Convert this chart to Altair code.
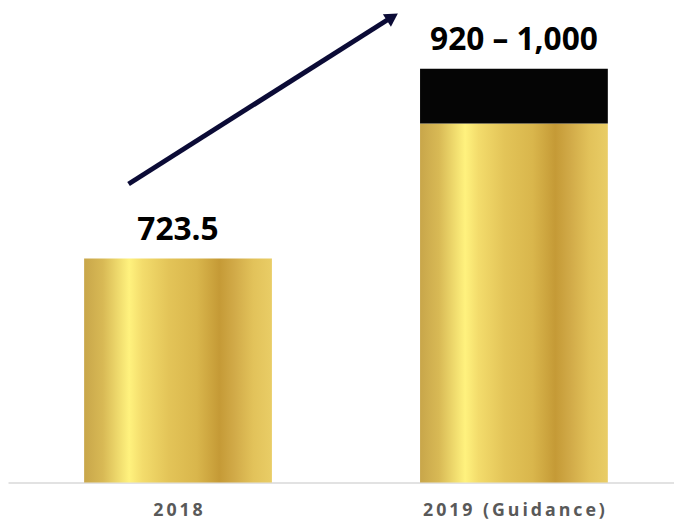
import altair as alt
import pandas as pd

categories = ["2018", "2019 (Guidance)"]
base_values = [723.5, 920.0]
upper_values = [None, 1000.0]
value_labels = ["723.5", "920 \u2013 1,000"]

gold_rows = pd.DataFrame({
    "cat": categories,
    "low": [0.0, 0.0],
    "high": base_values,
})
black_rows = pd.DataFrame({
    "cat": [c for c, u in zip(categories, upper_values) if u is not None],
    "low": [b for b, u in zip(base_values, upper_values) if u is not None],
    "high": [u for u in upper_values if u is not None],
})
label_rows = pd.DataFrame({
    "cat": categories,
    "top": [u if u is not None else b for b, u in zip(base_values, upper_values)],
    "label": value_labels,
})

x_enc = alt.X(
    "cat:N",
    sort=categories,
    title=None,
    scale=alt.Scale(paddingInner=0.441, paddingOuter=0.2118, align=0.535),
    axis=alt.Axis(
        labelAngle=0,
        ticks=False,
        tickSize=0,
        labelFont="Open Sans",
        labelFontWeight="bold",
        labelFontSize=18,
        labelColor="#595959",
        labelBaseline="alphabetic",
        labelPadding=34,
        labelLimit=0,
        domainColor="#d9d9d9",
        domainWidth=1.5,
        labelExpr="join(split(datum.label, ''), '\u2009')",
    ),
)
y_scale = alt.Scale(domain=[397, 1084], nice=False, zero=False)

gold = alt.Gradient(
    gradient="linear",
    x1=0, x2=1, y1=0, y2=0,
    stops=[
        alt.GradientStop(offset=0.0, color="#c8a64a"),
        alt.GradientStop(offset=0.1, color="#d8b955"),
        alt.GradientStop(offset=0.24, color="#fff27e"),
        alt.GradientStop(offset=0.31, color="#f3dc6c"),
        alt.GradientStop(offset=0.45, color="#e3c458"),
        alt.GradientStop(offset=0.6, color="#d9b64c"),
        alt.GradientStop(offset=0.72, color="#c59a36"),
        alt.GradientStop(offset=0.8, color="#d1aa48"),
        alt.GradientStop(offset=0.9, color="#e2c25a"),
        alt.GradientStop(offset=1.0, color="#e9cd66"),
    ],
)

gold_bars = alt.Chart(gold_rows).mark_bar(color=gold, clip=True).encode(
    x=x_enc,
    y=alt.Y("low:Q", scale=y_scale, axis=None),
    y2="high:Q",
)
black_bars = alt.Chart(black_rows).mark_bar(color="#050505", clip=True).encode(
    x=x_enc,
    y=alt.Y("low:Q", scale=y_scale, axis=None),
    y2="high:Q",
)
texts = alt.Chart(label_rows).mark_text(
    font="Open Sans", fontWeight="bold", fontSize=32, color="#000000",
    baseline="alphabetic", dy=-19,
).encode(
    x=x_enc,
    y=alt.Y("top:Q", scale=y_scale, axis=None),
    text="label:N",
)

arrow_line = alt.Chart(pd.DataFrame({"a": [0]})).mark_rule(
    color="#0b0b36", strokeWidth=5, strokeCap="butt"
).encode(
    x=alt.value(122), y=alt.value(175), x2=alt.value(387), y2=alt.value(7),
)
arrow_head = alt.Chart(pd.DataFrame({"a": [0]})).mark_point(
    shape="triangle-up", filled=True, color="#0b0b36", opacity=1, size=230, angle=57.6
).encode(
    x=alt.value(389), y=alt.value(6),
)

chart = alt.layer(gold_bars, black_bars, texts, arrow_line, arrow_head).properties(
    width=674,
    height=477,
    autosize=alt.AutoSizeParams(type="none"),
    padding={"left": 0, "top": 0, "right": 0, "bottom": 40},
).configure_view(stroke=None).configure_axis(grid=False)

chart.save("out.html", embed_options={"renderer": "svg", "actions": False})
